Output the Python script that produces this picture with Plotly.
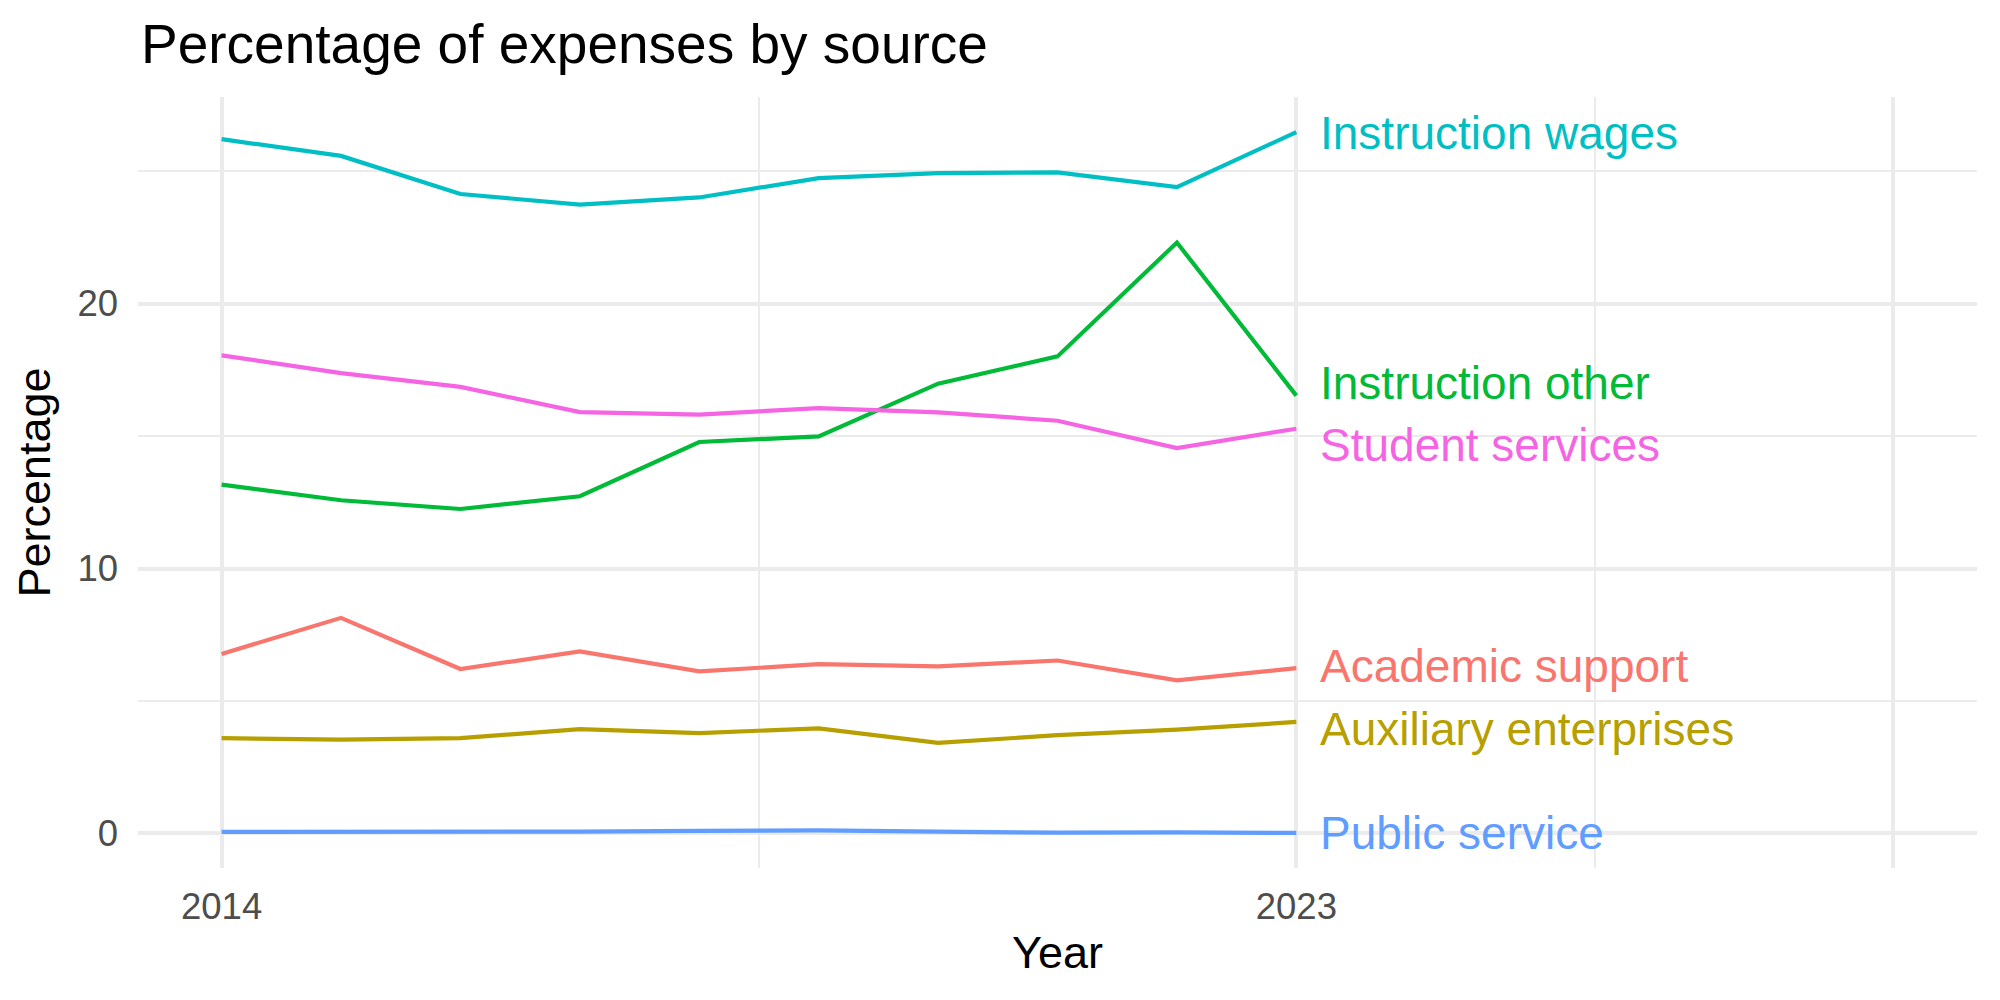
import plotly.graph_objects as go

years = list(range(2014, 2024))

series_names = ["Academic support", "Auxiliary enterprises", "Instruction other",
                "Instruction wages", "Public service", "Student services"]

academic_support = [6.78, 8.14, 6.21, 6.87, 6.12, 6.39, 6.31, 6.53, 5.78, 6.24]
auxiliary_enterprises = [3.60, 3.54, 3.60, 3.94, 3.79, 3.97, 3.42, 3.71, 3.92, 4.21]
instruction_other = [13.17, 12.58, 12.25, 12.73, 14.78, 14.99, 16.98, 18.01, 22.31, 16.53]
instruction_wages = [26.21, 25.58, 24.14, 23.74, 24.01, 24.74, 24.93, 24.96, 24.40, 26.48]
public_service = [0.06, 0.06, 0.05, 0.07, 0.10, 0.12, 0.07, 0.03, 0.04, 0.02]
student_services = [18.05, 17.38, 16.86, 15.91, 15.81, 16.06, 15.90, 15.58, 14.55, 15.28]

series_values = [academic_support, auxiliary_enterprises, instruction_other,
                 instruction_wages, public_service, student_services]

# repelled label positions (y) at the right end of each line
label_y = [6.34, 3.96, 17.0, 26.43, 0.0, 14.66]

colors = ["#F8766D", "#B79F00", "#00BA38", "#00BFC4", "#619CFF", "#F564E3"]

x_major = [2014, 2023, 2028]
x_major_text = ["2014", "2023", ""]
x_minor = [2018.5, 2025.5]
y_major = [0, 10, 20]
y_minor = [5, 15, 25]

FONT = "Liberation Sans"

fig = go.Figure()
for name, vals, col in zip(series_names, series_values, colors):
    fig.add_trace(go.Scatter(x=years, y=vals, mode="lines", name=name,
                             line=dict(color=col, width=4.2), showlegend=False))

for name, ly, col in zip(series_names, label_y, colors):
    fig.add_annotation(x=years[-1], y=ly, text=name, showarrow=False,
                       xanchor="left", yanchor="middle", xshift=22,
                       font=dict(family=FONT, size=46, color=col))

all_vals = [v for s in series_values for v in s]
ymin, ymax = min(all_vals), max(all_vals)
ypad = 0.05 * (ymax - ymin)
xmin, xmax = 2014, 2028
xpad = 0.05 * (xmax - xmin)

grid = "#EBEBEB"
fig.update_layout(
    width=2000, height=1000,
    margin=dict(l=138, r=23, t=97, b=132),
    paper_bgcolor="white", plot_bgcolor="white",
    title=dict(text="Percentage of expenses by source", x=141/2000, xref="container",
               xanchor="left", y=1-44/1000, yref="container", yanchor="middle",
               font=dict(family=FONT, size=55, color="black")),
    xaxis=dict(range=[xmin - xpad, xmax + xpad], tickmode="array", tickvals=x_major,
               ticktext=x_major_text, showgrid=True, gridcolor=grid, gridwidth=4.4,
               zeroline=False, showline=False, ticks="", ticklabelstandoff=13,
               tickfont=dict(family=FONT, size=36.5, color="#4D4D4D"),
               minor=dict(tickvals=x_minor, showgrid=True, gridcolor=grid, gridwidth=2.2),
               title=dict(text="Year", font=dict(family=FONT, size=45, color="black"), standoff=10)),
    yaxis=dict(range=[ymin - ypad, ymax + ypad], tickmode="array", tickvals=y_major,
               showgrid=True, gridcolor=grid, gridwidth=4.4,
               zeroline=False, showline=False, ticks="", ticklabelstandoff=19,
               tickfont=dict(family=FONT, size=36.5, color="#4D4D4D"),
               minor=dict(tickvals=y_minor, showgrid=True, gridcolor=grid, gridwidth=2.2),
               title=dict(text="Percentage", font=dict(family=FONT, size=45, color="black"), standoff=12)),
)

fig.write_html("out.html")
